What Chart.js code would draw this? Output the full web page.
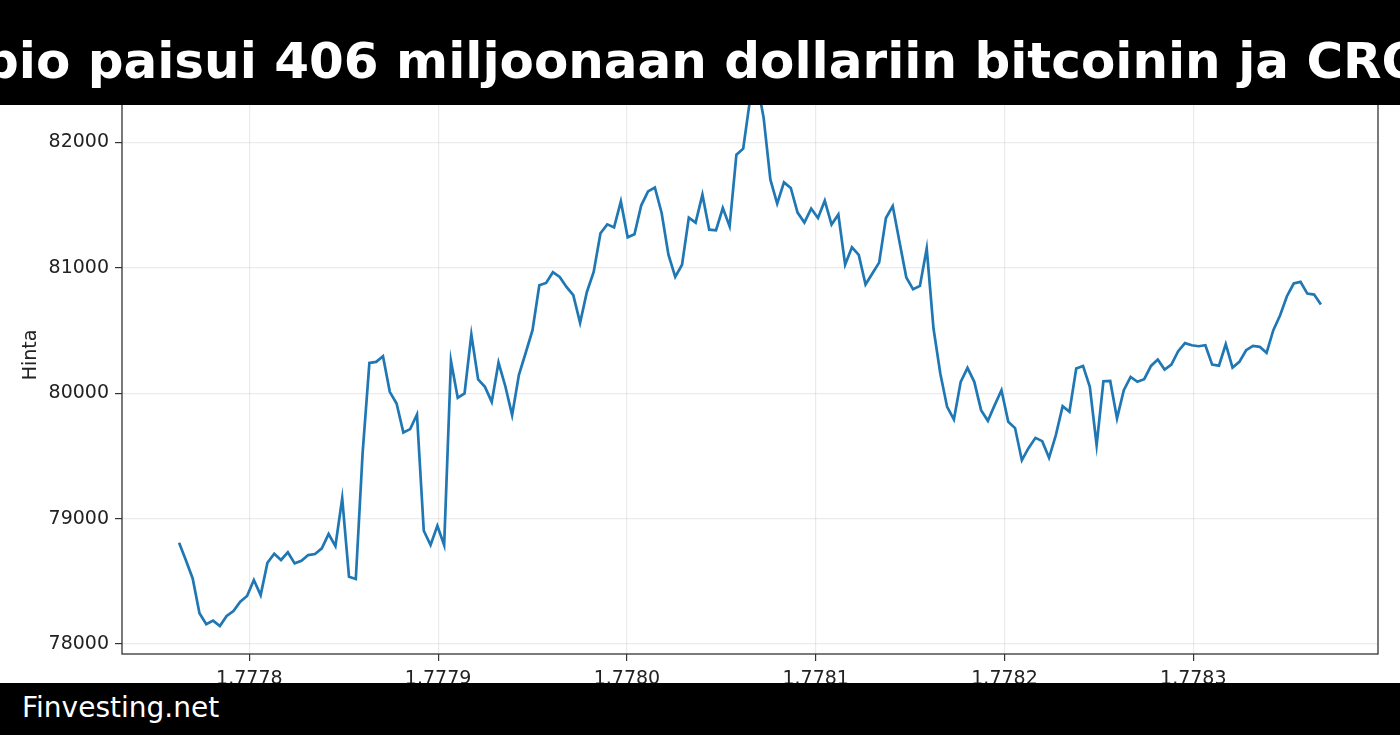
<!DOCTYPE html>
<html>
<head>
<meta charset="utf-8">
<script src="https://cdn.jsdelivr.net/npm/chart.js@4.4.1/dist/chart.umd.min.js"></script>
<style>
  html, body { margin: 0; padding: 0; background: #fff; width: 1400px; height: 735px; overflow: hidden; }
  #wrap { position: relative; width: 1400px; height: 735px; }
  #chart { position: absolute; left: 0; top: 0; }
  #title { position: absolute; left: 0; top: 0; width: 1400px; height: 105px; background: #000; overflow: hidden; }
  #title span { position: absolute; left: -17px; top: 36px; white-space: nowrap; color: #fff;
    font: bold 50px/50px "DejaVu Sans", sans-serif; }
  #footer { position: absolute; left: 0; top: 683px; width: 1400px; height: 52px; background: #000; }
  #footer span { position: absolute; left: 22px; top: 11px; color: #fff; font: 28px/28px "DejaVu Sans", sans-serif; }
</style>
</head>
<body>
<div id="wrap">
  <canvas id="chart" width="1400" height="735"></canvas>
  <div id="title"><span>bio paisui 406 miljoonaan dollariin bitcoinin ja CRO</span></div>
  <div id="footer"><span>Finvesting.net</span></div>
</div>
<script>
// ---------- Data (hourly closes) ----------
const startTime = 1777762800;   // first sample, unix seconds
const stepSeconds = 3600;       // one sample per hour
const prices = [
  78807, 78667, 78523, 78245, 78157, 78186, 78143, 78223, 78263, 78337,
  78383, 78510, 78390, 78648, 78720, 78670, 78731, 78643, 78664, 78709,
  78717, 78763, 78877, 78781, 79161, 78536, 78518, 79520, 80242, 80250,
  80295, 80011, 79918, 79687, 79714, 79830, 78903, 78789, 78943, 78789,
  80258, 79963, 79998, 80468, 80110, 80051, 79931, 80245, 80056, 79825,
  80147, 80323, 80503, 80861, 80880, 80965, 80928, 80848, 80782, 80561,
  80808, 80967, 81276, 81347, 81323, 81530, 81244, 81268, 81499, 81610,
  81641, 81438, 81105, 80928, 81025, 81401, 81361, 81584, 81305, 81300,
  81477, 81331, 81903, 81951, 82340, 82490, 82200, 81703, 81513, 81682,
  81637, 81441, 81361, 81473, 81398, 81536, 81345, 81426, 81026, 81164,
  81103, 80867, 80955, 81042, 81398, 81493, 81206, 80923, 80829, 80856,
  81154, 80516, 80157, 79891, 79791, 80091, 80202, 80091, 79865, 79780,
  79905, 80024, 79772, 79722, 79466, 79564, 79644, 79618, 79485, 79666,
  79897, 79852, 80197, 80218, 80051, 79586, 80096, 80098, 79799, 80024,
  80130, 80091, 80112, 80218, 80269, 80189, 80229, 80335, 80400, 80383,
  80375, 80383, 80228, 80220, 80391, 80205, 80250, 80343, 80378, 80370,
  80322, 80503, 80622, 80774, 80875, 80888, 80795, 80787, 80707
];
const xTicks = [1777800000, 1777900000, 1778000000, 1778100000, 1778200000, 1778300000];
const xTickLabels = ['1.7778', '1.7779', '1.7780', '1.7781', '1.7782', '1.7783'];
const yTicks = [78000, 79000, 80000, 81000, 82000];

const timestamps = prices.map((_, i) => startTime + i * stepSeconds);
const points = prices.map((p, i) => ({ x: timestamps[i], y: p }));

// ---------- Frame around the plot (matplotlib-style spines) ----------
const frame = {
  id: 'frame',
  afterDraw(chart) {
    const { ctx, chartArea: a } = chart;
    ctx.save();
    ctx.strokeStyle = '#333';
    ctx.lineWidth = 1.3;
    ctx.strokeRect(a.left, a.top, a.right - a.left, a.bottom - a.top);
    ctx.restore();
  }
};

const tickFont = { family: '"DejaVu Sans", sans-serif', size: 19 };

new Chart(document.getElementById('chart'), {
  type: 'line',
  data: {
    datasets: [{
      data: points,
      borderColor: '#1f77b4',
      borderWidth: 2.7,
      pointRadius: 0,
      tension: 0,
      fill: false,
    }]
  },
  options: {
    responsive: false,
    animation: false,
    devicePixelRatio: 1,
    layout: { padding: { left: 0, right: 22, top: 56, bottom: 0 } },
    plugins: { legend: { display: false }, tooltip: { enabled: false } },
    scales: {
      x: {
        type: 'linear',
        min: 1777732560,
        max: 1778397840,
        afterBuildTicks: s => { s.ticks = xTicks.map(v => ({ value: v })); },
        afterFit: s => { s.height = 81; },
        grid: { color: 'rgba(0,0,0,0.08)', lineWidth: 1.2, tickColor: '#333', tickLength: 7 },
        border: { display: false },
        ticks: {
          color: '#222', font: tickFont, padding: 7, maxRotation: 0,
          callback: v => xTickLabels[xTicks.indexOf(v)]
        }
      },
      y: {
        min: 77920,
        max: 82690,
        afterBuildTicks: s => { s.ticks = yTicks.map(v => ({ value: v })); },
        afterFit: s => { s.width = 122; },
        grid: { color: 'rgba(0,0,0,0.08)', lineWidth: 1.2, tickColor: '#333', tickLength: 7 },
        border: { display: false },
        ticks: { color: '#222', font: tickFont, padding: 6, callback: v => String(v) },
        title: {
          display: true, text: 'Hinta', color: '#222',
          font: { family: '"DejaVu Sans", sans-serif', size: 19 },
          padding: { top: 20, bottom: 0 }
        }
      }
    }
  },
  plugins: [frame]
});
</script>
</body>
</html>
